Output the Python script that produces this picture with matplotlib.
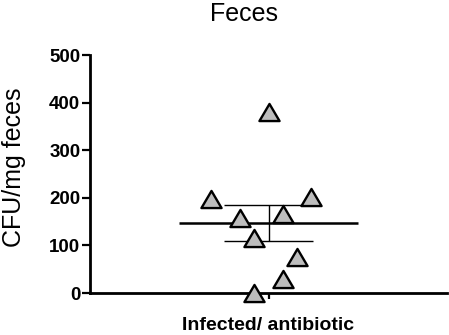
import matplotlib.pyplot as plt
import numpy as np
from matplotlib.path import Path

plt.rcParams['font.family'] = ['Liberation Sans', 'DejaVu Sans']

group = 'Infected/ antibiotic'
cfu = np.array([380, 198, 202, 158, 167, 115, 76, 30, 0])
# swarm slot of each point (left/right of the group centre)
slot = np.array([0, -4, 3, -2, 1, -1, 2, 1, -1])

mean = cfu.mean()
sem = cfu.std(ddof=1) / np.sqrt(len(cfu))

tri = Path([(-1, -0.85), (1, -0.85), (0, 0.85), (-1, -0.85)],
           [Path.MOVETO, Path.LINETO, Path.LINETO, Path.CLOSEPOLY])

fig = plt.figure(figsize=(4.49, 3.35), dpi=100)
ax = fig.add_axes([90 / 449, 42 / 335, 357 / 449, 238 / 335])

ax.plot(slot * 0.08, cfu, linestyle='none', marker=tri, markersize=14.5,
        markerfacecolor='#bdbdbd', markeredgecolor='black', markeredgewidth=1.7,
        clip_on=False, zorder=3)

ax.hlines(mean, -0.5, 0.5, color='black', linewidth=1.8, zorder=2)
ax.hlines([mean - sem, mean + sem], -0.25, 0.25, color='black', linewidth=1.0, zorder=2)
ax.vlines(0, mean - sem, mean + sem, color='black', linewidth=1.0, zorder=2)

ax.set_xlim(-1, 1)
ax.set_ylim(0, 500)
ax.set_yticks([0, 100, 200, 300, 400, 500])
ax.set_xticks([0])
ax.set_xticklabels([group], fontweight='bold', fontsize=14)
for lab in ax.get_yticklabels():
    lab.set_fontweight('bold')
    lab.set_fontsize(13.5)

ax.spines['top'].set_visible(False)
ax.spines['right'].set_visible(False)
ax.spines['left'].set_linewidth(2)
ax.spines['bottom'].set_linewidth(2)
ax.tick_params(axis='y', length=6, width=1.6, pad=1)
ax.tick_params(axis='x', length=4, width=1.6, pad=13)

fig.text(244 / 449, 1 - 14 / 335, 'Feces', ha='center', va='center', fontsize=18)
fig.text(14 / 449, 1 - 167 / 335, 'CFU/mg feces', ha='center', va='center',
         rotation=90, fontsize=18)

fig.savefig('out.png', dpi=100)
